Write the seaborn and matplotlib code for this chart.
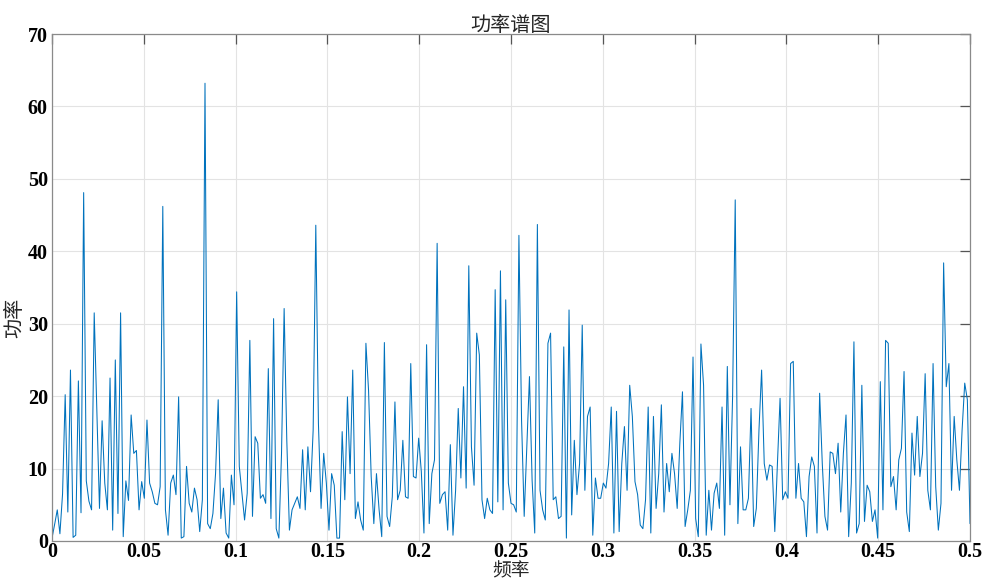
import numpy as np
import matplotlib
matplotlib.use("Agg")
import matplotlib.pyplot as plt
import seaborn as sns

# Power spectrum estimate, one value per frequency bin from 0 to Nyquist (0.5)
power = [
    0.4, 2.3, 4.3, 1.0, 6.5, 20.2, 4.0, 23.6, 0.5, 0.8, 22.1, 3.9, 48.1, 8.3, 5.5,
    4.3, 31.5, 18.0, 4.5, 16.6, 8.0, 4.3, 22.5, 1.5, 25.0, 3.8, 31.5, 0.6, 8.3, 5.6,
    17.4, 12.1, 12.5, 4.3, 8.2, 5.9, 16.7, 8.0, 6.8, 5.2, 5.0, 7.5, 46.2, 4.3, 0.8,
    8.0, 9.1, 6.4, 19.9, 0.4, 0.6, 10.3, 5.2, 4.0, 7.3, 5.7, 1.3, 5.7, 63.2,
    2.4, 1.7, 3.8, 9.3, 19.5, 3.1, 7.3, 1.1, 0.4, 9.1, 5.0, 34.4, 10.3, 6.6, 2.9,
    6.6, 27.7, 3.4, 14.4, 13.5, 5.9, 6.4, 5.2, 23.8, 3.1, 30.7, 1.7, 0.4,
    12.0, 32.1, 14.0, 1.5, 4.3, 5.2, 6.1, 4.5, 12.6, 4.3, 13.0, 6.8, 15.3, 43.6, 16.2,
    4.5, 12.1, 8.0, 1.5, 9.3, 7.7, 0.4, 0.4, 15.1, 5.7, 19.9, 9.3, 23.6, 3.1, 5.4,
    2.9, 1.5, 27.3, 20.8, 8.9, 2.4, 9.3, 4.3, 0.6, 27.4, 3.4, 2.0, 6.1, 19.2, 5.7,
    7.0, 13.9, 6.1, 5.9, 24.5, 8.9, 8.7, 14.2, 9.6, 1.1, 27.1, 2.4, 9.3, 11.2,
    41.1, 5.2, 6.4, 6.8, 1.5, 13.3, 0.8, 7.0, 18.3, 8.7, 21.3, 7.3, 38.0, 13.0, 7.7,
    28.7, 25.7, 5.7, 3.1, 5.9, 4.3, 3.8, 34.7, 5.4, 37.3, 4.3, 33.3, 8.0,
    5.2, 5.0, 4.0, 42.2, 16.7, 3.4, 13.0, 22.7, 8.4, 1.1, 43.7, 7.0, 4.3, 2.9, 27.3,
    28.7, 5.7, 6.1, 3.1, 3.4, 26.8, 0.4, 31.9, 3.6, 13.9, 6.4, 10.7, 29.8, 7.0,
    17.2, 18.5, 0.8, 8.7, 5.9, 5.9, 8.0, 7.3, 10.7, 18.5, 1.1, 17.9, 1.3, 10.7, 15.8,
    7.0, 21.5, 17.2, 8.2, 6.4, 2.2, 1.7, 5.7, 18.5, 1.1, 17.2, 4.5, 9.3, 18.8,
    4.0, 10.7, 6.8, 12.1, 9.3, 4.5, 13.5, 20.6, 2.0, 4.3, 7.0, 25.4, 3.1, 0.6, 27.2,
    21.5, 0.8, 7.0, 1.5, 6.6, 8.0, 4.5, 18.5, 0.8, 24.1, 5.0, 19.9, 47.1,
    2.4, 13.0, 4.3, 4.3, 5.9, 18.3, 2.0, 4.5, 15.3, 23.6, 10.7, 8.4, 10.5, 10.3, 1.3,
    10.7, 19.7, 5.7, 6.8, 5.9, 24.5, 24.8, 5.9, 10.7, 5.9, 5.4, 0.6, 8.9, 11.6,
    10.3, 1.1, 20.4, 10.7, 3.4, 1.5, 12.3, 12.1, 9.3, 13.5, 4.0, 12.1, 17.4, 0.6, 8.0,
    27.5, 1.1, 2.4, 21.5, 2.7, 7.7, 6.8, 2.7, 4.3, 0.4, 22.0, 4.3, 27.7, 27.3,
    7.5, 8.9, 4.3, 11.2, 12.8, 23.4, 4.0, 1.3, 14.9, 9.1, 17.2, 8.9, 12.1, 23.1, 7.0,
    4.3, 24.5, 7.5, 1.5, 5.2, 38.4, 21.3, 24.5, 7.0, 17.2, 11.2, 7.0, 15.3, 21.8,
    19.5, 2.4,
]
# Bins are evenly spaced from DC up to the Nyquist frequency
freq = np.linspace(0.0, 0.5, len(power))

x_ticks = [0, 0.05, 0.1, 0.15, 0.2, 0.25, 0.3, 0.35, 0.4, 0.45, 0.5]
x_tick_labels = ["0", "0.05", "0.1", "0.15", "0.2", "0.25", "0.3", "0.35", "0.4", "0.45", "0.5"]
y_ticks = [0, 10, 20, 30, 40, 50, 60, 70]

sns.set_style("white")
plt.rcParams["font.family"] = ["Noto Sans CJK SC", "DejaVu Sans"]

fig = plt.figure(figsize=(9.83, 5.81), dpi=100)
ax = fig.add_axes([52 / 983, 1 - 541 / 581, 918 / 983, 507 / 581])

sns.lineplot(x=freq, y=power, ax=ax, color="#0072BD", linewidth=0.75)

ax.set_xlim(0, 0.5)
ax.set_ylim(0, 70)
ax.set_xticks(x_ticks)
ax.set_xticklabels(x_tick_labels)
ax.set_yticks(y_ticks)

ax.grid(True, color="#e3e3e3", linewidth=0.8)
ax.set_axisbelow(True)
for spine in ax.spines.values():
    spine.set_color("#8a8a8a")
    spine.set_linewidth(0.9)

ax.tick_params(axis="both", direction="in", top=True, right=True,
               length=7, width=0.9, color="#555555", pad=3)
ax.tick_params(axis="x", pad=1.0)
for lbl in ax.get_xticklabels() + ax.get_yticklabels():
    lbl.set_fontfamily("Liberation Serif")
    lbl.set_fontweight("bold")
    lbl.set_fontsize(14.5)
    lbl.set_color("black")

ax.set_title("功率谱图", fontsize=14.5, pad=2)
ax.set_xlabel("频率", fontsize=13.5, va="center")
ax.xaxis.set_label_coords(0.5, -0.0592)
ax.set_ylabel("功率", fontsize=14.5, va="center")
ax.yaxis.set_label_coords(-0.041, 0.44)

fig.savefig("out.png", dpi=100)
